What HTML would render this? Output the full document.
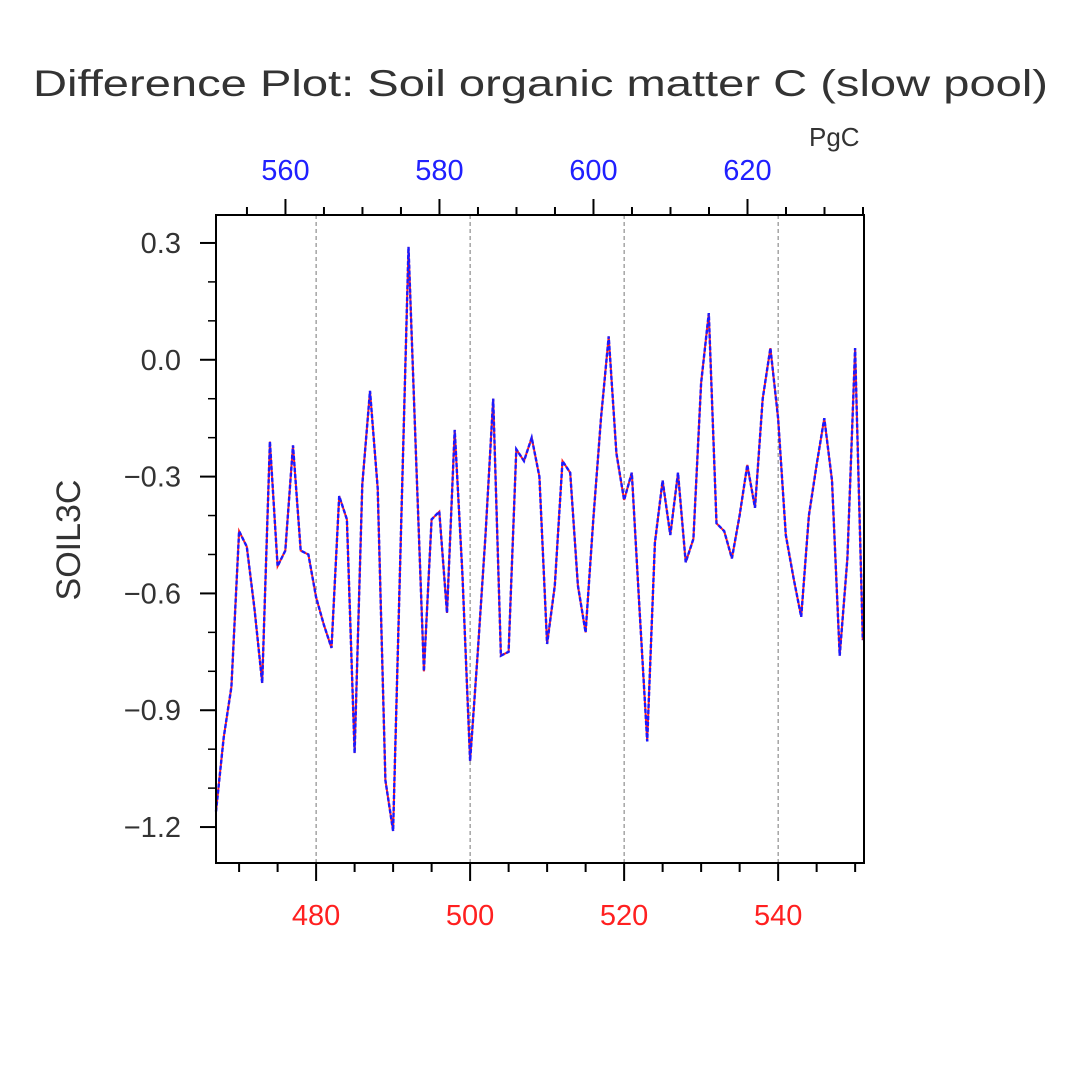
<!DOCTYPE html>
<html><head><meta charset="utf-8"><style>
html,body{margin:0;padding:0;background:#fff;}
svg{display:block;font-family:"Liberation Sans",sans-serif;}
</style></head><body>
<svg id="chart" width="1080" height="1080" viewBox="0 0 1080 1080" xmlns="http://www.w3.org/2000/svg">
<text x="33" y="96" font-size="37" fill="#333" textLength="1015" lengthAdjust="spacingAndGlyphs">Difference Plot: Soil organic matter C (slow pool)</text>
<text x="809" y="146" font-size="26" fill="#333">PgC</text>
<text transform="translate(80,540) rotate(-90)" text-anchor="middle" font-size="34" fill="#333">SOIL3C</text>
<g id="grid"></g>
<g id="axes"></g>
<g id="series"></g>
<rect x="216" y="215" width="648" height="648" fill="none" stroke="#000" stroke-width="2"/>
</svg>
<script>
const years = [467,468,469,470,471,472,473,474,475,476,477,478,479,480,481,482,483,484,485,486,487,488,489,490,491,492,493,494,495,496,497,498,499,500,501,502,503,504,505,506,507,508,509,510,511,512,513,514,515,516,517,518,519,520,521,522,523,524,525,526,527,528,529,530,531,532,533,534,535,536,537,538,539,540,541,542,543,544,545,546,547,548,549,550,551];
const soil3c = [-1.16,-0.97,-0.84,-0.44,-0.48,-0.64,-0.83,-0.21,-0.53,-0.49,-0.22,-0.49,-0.50,-0.61,-0.68,-0.74,-0.35,-0.41,-1.01,-0.32,-0.08,-0.33,-1.08,-1.21,-0.46,0.29,-0.26,-0.80,-0.41,-0.39,-0.65,-0.18,-0.55,-1.03,-0.75,-0.45,-0.10,-0.76,-0.75,-0.23,-0.26,-0.20,-0.30,-0.73,-0.58,-0.26,-0.29,-0.58,-0.70,-0.41,-0.15,0.06,-0.24,-0.36,-0.29,-0.64,-0.98,-0.47,-0.31,-0.45,-0.29,-0.52,-0.46,-0.06,0.12,-0.42,-0.44,-0.51,-0.40,-0.27,-0.38,-0.10,0.03,-0.15,-0.45,-0.56,-0.66,-0.40,-0.27,-0.15,-0.31,-0.76,-0.51,0.03,-0.72];
const bottomTicks = [480,500,520,540];
const topTicks = [560,580,600,620];
const yTicks = [0.3,0.0,-0.3,-0.6,-0.9,-1.2];
const yTickLabels = ["0.3","0.0","\u22120.3","\u22120.6","\u22120.9","\u22121.2"];

const L=216,R=864,T=215,B=863;
const xMin=467,xMax=551.15, topMin=550.98, topMax=635.13;
const yMin=-1.2923,yMax=0.3718;
const X=v=>L+(v-xMin)/(xMax-xMin)*(R-L);
const XT=v=>L+(v-topMin)/(topMax-topMin)*(R-L);
const Y=v=>B-(v-yMin)/(yMax-yMin)*(B-T);
const NS="http://www.w3.org/2000/svg";
function mk(tag,attrs,parent){const e=document.createElementNS(NS,tag);for(const k in attrs)e.setAttribute(k,attrs[k]);parent.appendChild(e);return e;}
const grid=document.getElementById('grid'),axes=document.getElementById('axes'),series=document.getElementById('series');

bottomTicks.forEach(t=>{
  const g=mk('line',{x1:X(t),x2:X(t),y1:T,y2:B,stroke:'#777','stroke-width':1,'stroke-dasharray':'4,3'},grid);
  
  
});
for(let v=470;v<=551;v+=5){
  const major=bottomTicks.includes(v);
  const t=mk('line',{x1:X(v),x2:X(v),y1:B,y2:B+(major?18:9),stroke:'#000','stroke-width':2},axes);
  
  
}
bottomTicks.forEach(v=>{
  const t=mk('text',{x:X(v),y:B+62,'text-anchor':'middle','font-size':29,fill:'#ff2020'},axes);
  t.textContent=v;
  
  
});
for(let v=555;v<=635;v+=5){
  const major=topTicks.includes(v);
  const t=mk('line',{x1:XT(v),x2:XT(v),y1:T,y2:T-(major?16:8),stroke:'#000','stroke-width':2},axes);
  
  
}
topTicks.forEach(v=>{
  const t=mk('text',{x:XT(v),y:T-35,'text-anchor':'middle','font-size':29,fill:'#2020ff'},axes);
  t.textContent=v;
  
  
});
for(let k=-12;k<=3;k++){
  const v=k/10;const major=(k%3===0);
  const t=mk('line',{x1:L,x2:L-(major?16:8),y1:Y(v),y2:Y(v),stroke:'#000','stroke-width':major?2:1.5},axes);
  
  
}
yTicks.forEach((v,i)=>{
  const t=mk('text',{x:L-35,y:Y(v)+10,'text-anchor':'end','font-size':29,fill:'#333'},axes);
  t.textContent=yTickLabels[i];
  
  
});
const pts=years.map((yr,i)=>X(yr).toFixed(1)+','+Y(soil3c[i]).toFixed(1)).join(' ');
const red=mk('polyline',{points:pts,fill:'none',stroke:'#ff2020','stroke-width':2},series);


const blue=mk('polyline',{points:pts,fill:'none',stroke:'#1a1aff','stroke-width':2.4,'stroke-dasharray':'4,2'},series);


</script>
</body></html>
